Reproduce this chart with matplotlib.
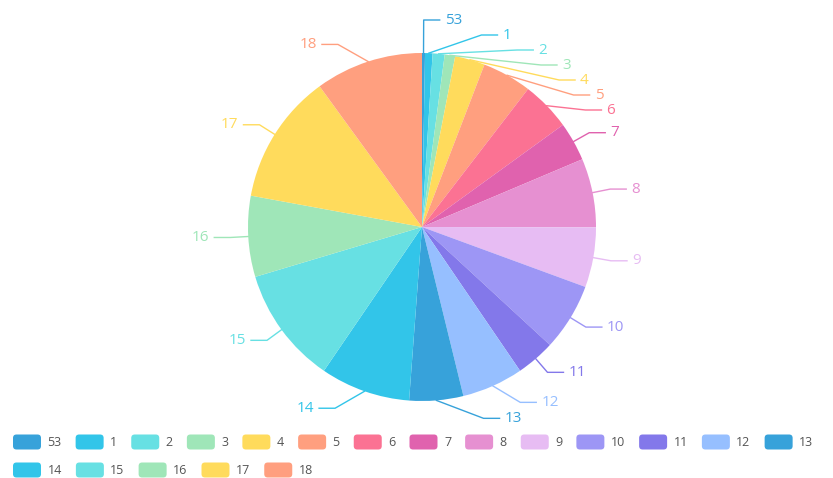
import numpy as np
import matplotlib
matplotlib.use('Agg')
import matplotlib.pyplot as plt
from matplotlib.patches import FancyBboxPatch

plt.rcParams['font.family'] = ['Open Sans', 'DejaVu Sans']

names = ['53', '1', '2', '3', '4', '5', '6', '7', '8', '9',
         '10', '11', '12', '13', '14', '15', '16', '17', '18']
values = [2, 5, 8, 7, 20, 33, 33, 26, 46, 40,
          45, 26, 41, 36, 60, 78, 54, 87, 72]
palette = ['#37A2DA', '#32C5E9', '#67E0E3', '#9FE6B8', '#FFDB5C', '#ff9f7f',
           '#fb7293', '#E062AE', '#E690D1', '#e7bcf3', '#9d96f5', '#8378EA',
           '#96BFFF']
colors = [palette[i % len(palette)] for i in range(len(values))]

W, H = 833, 478
fig = plt.figure(figsize=(W / 100, H / 100), dpi=100)
ax = fig.add_axes([0, 0, 1, 1])

cx, cy, r = 422, 227, 174
# y axis is flipped (pixel coords), so counterclockwise in data = clockwise on screen
wedges, _ = ax.pie(values, colors=colors, startangle=-90, counterclock=True,
                   radius=r, center=(cx, cy), wedgeprops=dict(linewidth=0))
ax.set_xlim(0, W)
ax.set_ylim(H, 0)
ax.set_aspect('equal')
ax.axis('off')

# label lines
L1, L2, gap, top = 18, 16, 15, 20
Rc = 201
vals = np.array(values, dtype=float)
cum = np.cumsum(vals)
mid = (cum - vals / 2) / vals.sum() * 2 * np.pi  # clockwise from 12 o'clock
sx, sy = np.sin(mid), -np.cos(mid)

ex, ey = cx + r * sx, cy + r * sy
px, py = cx + (r + L1) * sx, cy + (r + L1) * sy
ly = py.copy()

for side in (1, -1):
    idx = [i for i in range(len(vals)) if (sx[i] >= 0) == (side == 1)]
    idx.sort(key=lambda i: py[i])
    ys = [py[i] for i in idx]
    for _ in range(300):
        for k in range(1, len(ys)):
            d = ys[k] - ys[k - 1]
            if d < gap:
                push = (gap - d) / 2
                ys[k - 1] -= push
                ys[k] += push
    ys[0] = max(ys[0], top)
    for k in range(1, len(ys)):
        ys[k] = max(ys[k], ys[k - 1] + gap)
    for i, y in zip(idx, ys):
        ly[i] = y

for i in range(len(vals)):
    side = 1 if sx[i] >= 0 else -1
    dy = abs(ly[i] - cy)
    dx = abs(px[i] - cx)
    if abs(ly[i] - py[i]) > 1 or dy > 0.9 * (r + L1):
        dx = max(dx, np.sqrt(max(Rc ** 2 - dy ** 2, 0)))
    x1 = cx + side * dx
    x2 = x1 + side * L2
    ax.plot([ex[i], x1, x2], [ey[i], ly[i], ly[i]], color=colors[i], lw=1,
            solid_joinstyle='round')
    ax.text(x2 + side * 5, ly[i], names[i], color=colors[i], fontsize=11,
            ha='left' if side == 1 else 'right', va='center')

# legend
renderer = fig.canvas.get_renderer()
bw, bh = 28, 15
x, row_y = 13, 442
for i, name in enumerate(names):
    t = ax.text(0, 0, name, fontsize=9, color='#555555', va='center', ha='left')
    tw = t.get_window_extent(renderer).width
    if x + bw + 6.5 + tw > W - 2:
        x = 13
        row_y += 28
    box = FancyBboxPatch((x, row_y - bh / 2), bw, bh,
                         boxstyle='round,pad=0,rounding_size=3.5',
                         facecolor=colors[i], edgecolor='none')
    ax.add_patch(box)
    t.set_position((x + bw + 6.5, row_y))
    x += bw + 6.5 + tw + 14

fig.savefig('out.png', dpi=100)
